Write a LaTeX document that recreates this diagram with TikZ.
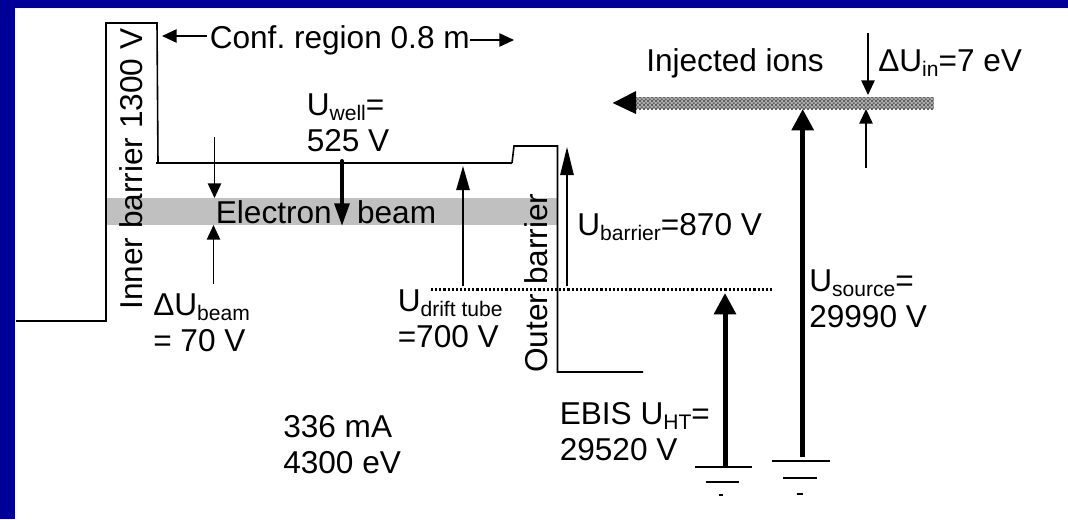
\documentclass[tikz,border=0pt]{standalone}
\usepackage{fontspec}
\setmainfont{Liberation Sans}
\usetikzlibrary{arrows.meta,patterns}
\definecolor{framecol}{RGB}{0,0,153}
\definecolor{beamcol}{RGB}{192,192,192}
\definecolor{ioncol}{RGB}{175,175,175}
\definecolor{iondark}{RGB}{95,95,95}
\newcommand{\lowtxt}[1]{\raisebox{-.17em}{\fontsize{15.8}{15.8}\selectfont #1}}
\frenchspacing
\pgfdeclarepatternformonly{ionchecks}{\pgfqpoint{0pt}{0pt}}{\pgfqpoint{3.2pt}{3.2pt}}{\pgfqpoint{3.2pt}{3.2pt}}{
	\pgfpathrectangle{\pgfqpoint{0pt}{0pt}}{\pgfqpoint{1.6pt}{1.6pt}}
	\pgfpathrectangle{\pgfqpoint{1.6pt}{1.6pt}}{\pgfqpoint{1.6pt}{1.6pt}}
	\pgfusepath{fill}
}
\tikzset{
	lbl/.style={anchor=base west, inner sep=0pt, align=left, font=\fontsize{23.7}{27}\selectfont},
	sidelbl/.style={lbl, rotate=90},
	thinarrow/.style={line width=1.2pt, -{Triangle[length=#1,width=10pt]}},
	thinarrow/.default=11pt,
	thickarrow/.style={line width=3.75pt, -{Triangle[length=16pt,width=16pt]}}
}
\begin{document}
\begin{tikzpicture}[x=0.75pt,y=-0.75pt]
		\useasboundingbox (0,0) rectangle (1068,519);
		\fill[framecol] (0,0) rectangle (1068,519);
		\fill[white] (15,8) rectangle (1068,519);
		% beams
		\fill[beamcol] (106,198) rectangle (556.5,225);
		\fill[ioncol] (631,97) rectangle (933.5,109);
		\fill[pattern=ionchecks, pattern color=iondark] (631,97) rectangle (933.5,109);
		\fill (612.7,103) -- (636,91) -- (636,114) -- cycle;
		% potential
		\draw[line width=1.2pt] (16,321) -- (106,321) -- (106,23) -- (157,23) -- (158,163);
		\draw[line width=2pt] (156,163) -- (512,163);
		\draw[line width=1.2pt] (512,163) -- (514,146) -- (557.5,146) -- (557.5,372) -- (643,372);
		\draw[line width=2.2pt, dash pattern=on 1.6pt off 1.5pt] (431,289.5) -- (774,289.5);
		% arrows
		\draw[thinarrow] (207,36) -- (162,36);
		\draw[thinarrow] (470,40) -- (514,40);
		\draw[thinarrow] (214.5,137) -- (214.5,198);
		\draw[thinarrow] (213.5,284) -- (213.5,225);
		\draw[thinarrow=18pt] (463,286) -- (463,166);
		\draw[thinarrow=21pt] (567,286) -- (567,147);
		\draw[thinarrow] (868,33) -- (868,95);
		\draw[thinarrow] (866,168) -- (866,109);
		\draw[line width=3pt, line cap=round, -{Triangle[length=17pt,width=11pt]}] (342,161) -- (342,226);
		\draw[thickarrow] (802.7,457) -- (802.7,109);
		\draw[thickarrow] (725,467) -- (725,293);
		% grounds
		\draw[line width=1.2pt] (695.4,467) -- (751.6,467);
		\draw[line width=1.2pt] (705.7,482) -- (739.4,482);
		\draw[line width=1.2pt] (719,495) -- (723,495);
		\draw[line width=2pt] (772,461) -- (830.3,461);
		\draw[line width=2pt] (783.3,478) -- (817,478);
		\draw[line width=2pt] (796.6,494) -- (802.7,494);
		% labels
		\node[lbl] (conf) at (209.5,48) {Conf. region 0.8 m};
		\node[lbl] (well) at (306.5,151) {U\lowtxt{well}=\\525 V};
		\node[lbl] (ebeam) at (215.6,223) {Electron\hspace{.8em}beam};
		\node[sidelbl] (inner) at (142,310) {Inner barrier 1300 V};
		\node[sidelbl] (outer) at (547.3,373) {Outer barrier};
		\node[lbl] (dbeam) at (153,351) {ΔU\lowtxt{beam}\\= 70 V};
		\node[lbl] (drift) at (397.5,347) {U\lowtxt{drift tube}\\=700 V};
		\node[lbl] (curr) at (283,473) {336 mA\\4300 eV};
		\node[lbl] (ubar) at (577,235) {U\lowtxt{barrier}=870 V};
		\node[lbl] (ions) at (646,71) {Injected ions};
		\node[lbl] (dion) at (878,71) {ΔU\lowtxt{in}=7 eV};
		\node[lbl] (usrc) at (809,327) {U\lowtxt{source}=\\29990 V};
		\node[lbl] (uht) at (559.5,460) {EBIS U\lowtxt{HT}=\\29520 V};
	\end{tikzpicture}
\end{document}
